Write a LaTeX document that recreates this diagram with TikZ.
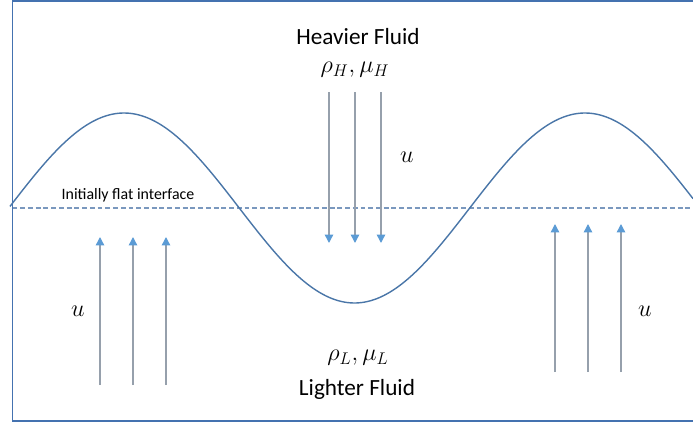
\documentclass[tikz,border=0pt]{standalone}
\usepackage{fontspec}
\setmainfont{Carlito}
\usetikzlibrary{arrows.meta}

\definecolor{framebl}{RGB}{68,114,176}
\definecolor{wavebl}{RGB}{74,118,168}
\definecolor{dashbl}{RGB}{122,152,190}
\definecolor{shaftgr}{RGB}{150,160,172}
\definecolor{tipbl}{RGB}{91,155,213}

\begin{document}
\begin{tikzpicture}[x=0.025cm, y=-0.025cm, every node/.style={font=\fontsize{16.5}{20}\selectfont, inner sep=0pt}, note/.style={font=\fontsize{11.3}{13}\selectfont}, flow/.style={draw=shaftgr, line width=1pt, -{Triangle[length=6pt, width=6pt, color=tipbl]}}, wave/.style={draw=wavebl, line width=1pt}, rest/.style={draw=dashbl, line width=0.8pt, dash pattern=on 3.5pt off 2pt}]
\useasboundingbox (0,0) rectangle (693,423);
\draw[framebl, line width=1.4pt] (693,1) -- (12.5,1) -- (12.5,421) -- (693,421);
\draw[rest] (12.5,208) -- (693,208);
\draw[wave] plot[domain=10:693, samples=150, smooth] (\x, {208-95*cos(0.78091*(\x-124))});
\node (heavy) at (358,37) {Heavier Fluid};
\node (proph) at (355,70) {$\rho_H,\mu_H$};
\node (propl) at (358,358) {$\rho_L,\mu_L$};
\node (light) at (357,389) {Lighter Fluid};
\node[note] (iface) at (128,195) {Initially flat interface};
\node (uh) at (407,157) {$u$}; \node (ul) at (78,311) {$u$}; \node (ur) at (645,311) {$u$};
\coordinate (d1a) at (329,92); \coordinate (d1b) at (329,243);
\coordinate (d2a) at (355,92); \coordinate (d2b) at (355,243);
\coordinate (d3a) at (381,92); \coordinate (d3b) at (381,243);
\coordinate (l1a) at (100,385); \coordinate (l1b) at (100,237);
\coordinate (l2a) at (133,385); \coordinate (l2b) at (133,237);
\coordinate (l3a) at (166,385); \coordinate (l3b) at (166,237);
\coordinate (r1a) at (555,372); \coordinate (r1b) at (555,224);
\coordinate (r2a) at (588,372); \coordinate (r2b) at (588,224);
\coordinate (r3a) at (621,372); \coordinate (r3b) at (621,224);
\draw[flow] (d1a) -- (d1b); \draw[flow] (d2a) -- (d2b); \draw[flow] (d3a) -- (d3b);
\draw[flow] (l1a) -- (l1b); \draw[flow] (l2a) -- (l2b); \draw[flow] (l3a) -- (l3b);
\draw[flow] (r1a) -- (r1b); \draw[flow] (r2a) -- (r2b); \draw[flow] (r3a) -- (r3b);
\end{tikzpicture}
\end{document}
